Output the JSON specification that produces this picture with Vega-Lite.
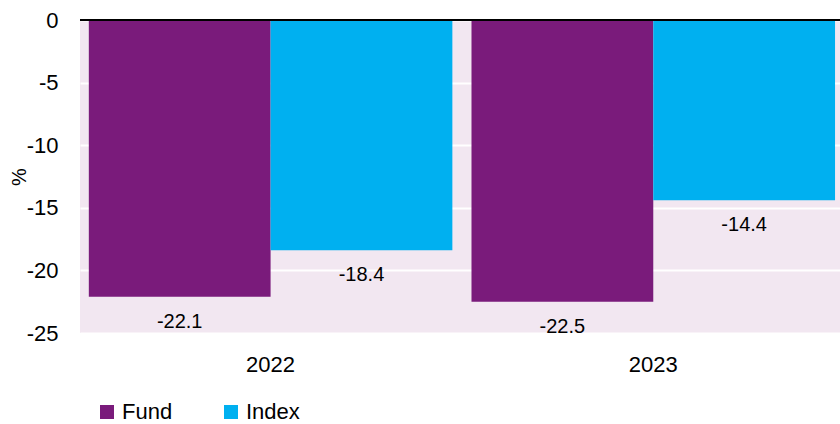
{
  "$schema": "https://vega.github.io/schema/vega-lite/v6.json",
  "width": 760,
  "height": 313,
  "autosize": {"type": "none"},
  "padding": {"left": 80, "top": 20, "right": 0, "bottom": 91},
  "background": "white",
  "config": {
    "view": {"fill": "#F2E7F1", "stroke": null},
    "font": "Liberation Sans",
    "locale": {
      "number": {"decimal": ".", "thousands": ",", "grouping": [3], "currency": ["$", ""], "minus": "-"}
    }
  },
  "data": {
    "values": [
      {"year": "2022", "series": "Fund", "value": -22.1},
      {"year": "2022", "series": "Index", "value": -18.4},
      {"year": "2023", "series": "Fund", "value": -22.5},
      {"year": "2023", "series": "Index", "value": -14.4}
    ]
  },
  "encoding": {
    "x": {
      "field": "year",
      "type": "nominal",
      "scale": {"paddingInner": 0.05, "paddingOuter": 0.018, "align": 0.64},
      "axis": {
        "title": null,
        "labelAngle": 0,
        "ticks": false,
        "domain": false,
        "labelPadding": 21,
        "labelFontSize": 22,
        "labelColor": "black"
      }
    },
    "xOffset": {"field": "series", "type": "nominal", "scale": {"paddingInner": 0, "paddingOuter": 0}}
  },
  "layer": [
    {
      "mark": {"type": "bar"},
      "encoding": {
        "y": {
          "field": "value",
          "type": "quantitative",
          "scale": {"domain": [-25, 0], "nice": false},
          "axis": {
            "title": "%",
            "values": [-25, -20, -15, -10, -5, 0],
            "grid": true,
            "gridColor": "white",
            "gridWidth": 2,
            "ticks": false,
            "domain": false,
            "labelPadding": 22,
            "labelFontSize": 22,
            "labelColor": "black",
            "titleFontSize": 20,
            "titleFontWeight": "normal",
            "titleColor": "black",
            "titleX": -61,
            "titleBaseline": "middle"
          }
        },
        "color": {
          "field": "series",
          "type": "nominal",
          "scale": {"domain": ["Fund", "Index"], "range": ["#7A1B7B", "#00B0F0"]},
          "legend": {
            "title": null,
            "orient": "none",
            "legendX": 16,
            "legendY": 381,
            "direction": "horizontal",
            "symbolType": "square",
            "symbolSize": 196,
            "symbolStrokeWidth": 0,
            "labelFontSize": 22,
            "labelColor": "black",
            "labelOffset": 4,
            "columnPadding": 47
          }
        }
      }
    },
    {
      "mark": {"type": "text", "dy": 25, "fontSize": 20, "color": "black"},
      "encoding": {
        "y": {"field": "value", "type": "quantitative"},
        "text": {"field": "value", "type": "quantitative", "format": ".1f"}
      }
    },
    {
      "mark": {"type": "rule", "color": "black", "strokeWidth": 2},
      "encoding": {"y": {"datum": 0}, "x": null, "xOffset": null}
    }
  ]
}
